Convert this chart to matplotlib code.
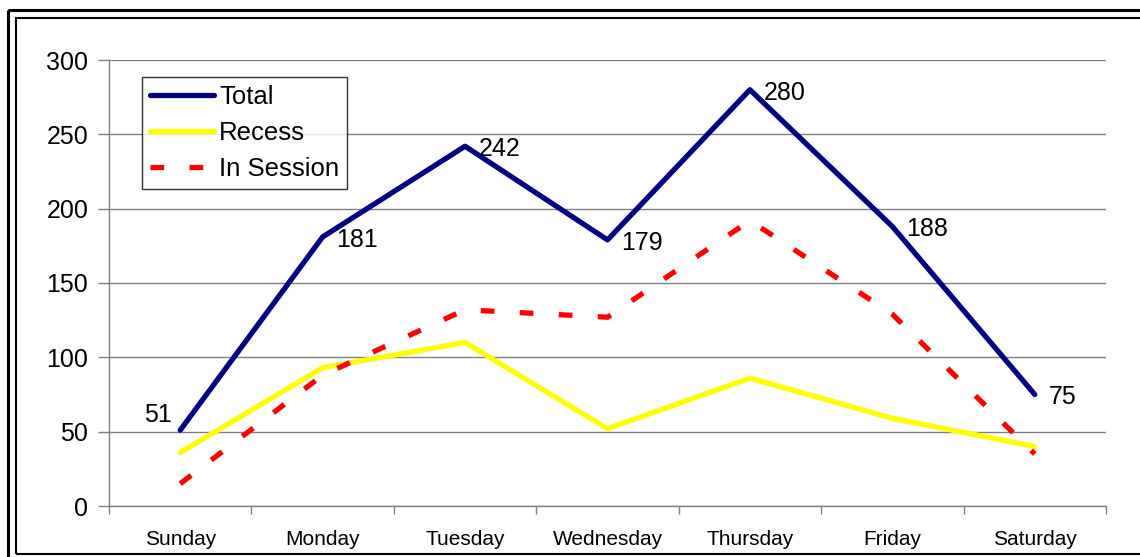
import matplotlib
matplotlib.use("Agg")
import matplotlib.pyplot as plt
from matplotlib.patches import Rectangle
from matplotlib.ticker import FixedLocator, NullFormatter

plt.rcParams['font.family'] = ['Liberation Sans', 'DejaVu Sans']

days = ["Sunday", "Monday", "Tuesday", "Wednesday", "Thursday", "Friday", "Saturday"]
total = [51, 181, 242, 179, 280, 188, 75]
recess = [36, 93, 110, 52, 86, 59, 40]
in_session = [15, 88, 132, 127, 192, 129, 35]
y_ticks = [0, 50, 100, 150, 200, 250, 300]

W, H = 1140, 557
fig = plt.figure(figsize=(W / 100, H / 100), dpi=100)
fig.patch.set_facecolor("white")

# double frame around the chart
fig.add_artist(Rectangle((7.5 / W, 1 - 10 / H), 2, -2, transform=fig.transFigure,
                         fill=False, lw=2.2, ec="black"))
fig.add_artist(Rectangle((16 / W, (H - 553.5) / H), 2, (553.5 - 18) / H,
                         transform=fig.transFigure, fill=False, lw=1.5, ec="black"))

ax = fig.add_axes([109 / W, (H - 506) / H, (1106 - 109) / W, (506 - 60) / H])
x = list(range(len(days)))

ax.plot(x, total, color="#000080", lw=3.8, label="Total", solid_capstyle="round", zorder=4)
ax.plot(x, recess, color="#FFFF00", lw=3.8, label="Recess", solid_capstyle="round", zorder=3)
ax.plot(x, in_session, color="#FF0000", lw=3.8, label="In Session",
        dashes=(2.6, 4.8), dash_capstyle="butt", zorder=3)

ax.set_xlim(-0.5, len(days) - 0.5)
ax.set_ylim(0, 300)
ax.set_yticks(y_ticks)
ax.yaxis.grid(True, color="#808080", lw=1)
ax.set_axisbelow(True)

ax.set_xticks(x)
ax.set_xticklabels(days, fontsize=15)
ax.tick_params(axis="x", which="major", length=0, pad=17)
ax.xaxis.set_minor_locator(FixedLocator([i - 0.5 for i in range(len(days) + 1)]))
ax.xaxis.set_minor_formatter(NullFormatter())
ax.tick_params(axis="x", which="minor", length=6, width=1, color="#808080", direction="out")
ax.tick_params(axis="y", length=8, width=1, color="#808080", labelsize=18, pad=7)

for side in ("top", "right"):
    ax.spines[side].set_visible(False)
for side in ("left", "bottom"):
    ax.spines[side].set_color("#808080")
    ax.spines[side].set_linewidth(1)

# value labels on the total series
for i, v in enumerate(total):
    if i == 0:
        ax.annotate(str(v), (i, v), xytext=(-6, 11), textcoords="offset points",
                    ha="right", va="center", fontsize=18)
    else:
        ax.annotate(str(v), (i, v), xytext=(10, -2), textcoords="offset points",
                    ha="left", va="center", fontsize=18)

leg = ax.legend(loc="upper left", bbox_to_anchor=(142 / W, 1 - 77 / H),
                bbox_transform=fig.transFigure, fontsize=18.5, frameon=True,
                fancybox=False, shadow=False, borderaxespad=0, borderpad=0.3,
                handlelength=2.5, handletextpad=0.2, labelspacing=0.48)
leg.get_frame().set_edgecolor("black")
leg.get_frame().set_linewidth(1)

fig.savefig("out.png", dpi=100, facecolor="white")
